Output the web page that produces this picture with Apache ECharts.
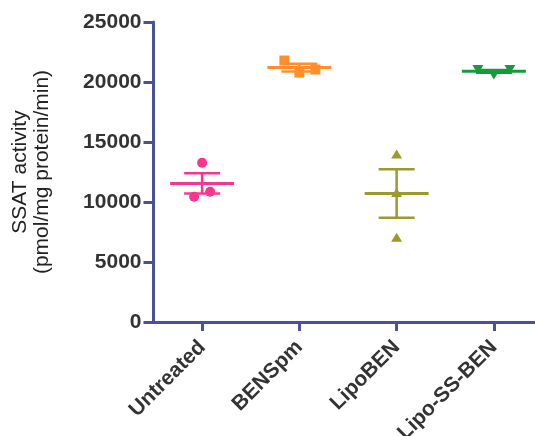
<!DOCTYPE html>
<html>
<head>
<meta charset="utf-8">
<script src="https://cdn.jsdelivr.net/npm/echarts@6/dist/echarts.min.js"></script>
<style>html,body{margin:0;padding:0;background:#fff;}#c{width:535px;height:436px;}</style>
</head>
<body>
<div id="c"></div>
<script>
// ---- data ----
const categories = ['Untreated', 'BENSpm', 'LipoBEN', 'Lipo-SS-BEN'];
const untreatedPts = [13270, 10440, 10860];
const benspmPts = [21790, 20790, 21040];
const lipobenPts = [14000, 10800, 7060];
const lipossbenPts = [21040, 20580, 21040];
const means = [11550, 21200, 10700, 20890];
const sems = [850, 330, 2020, 110];
const yTicks = [0, 5000, 10000, 15000, 20000, 25000];

// ---- styles ----
const colors = ['#F7378F', '#FF8F2C', '#9A9A2E', '#179A3C'];
const symbols = ['circle', 'rect', 'triangle', 'path://M0,0 L10,0 L5,9 Z'];
const symbolSizes = [[10, 10], [10, 10], [11, 9], [11, 9]];
const jitter = [[0, -8, 8], [-15, 0, 16], [0, 0, 0], [-16, 0, 16]];
const axisColor = '#4B5196';
const FONT = '"Liberation Sans", Arial, Helvetica, sans-serif';
const allPts = [untreatedPts, benspmPts, lipobenPts, lipossbenPts];

const chart = echarts.init(document.getElementById('c'), null, {renderer: 'canvas'});

const scatterSeries = allPts.map((pts, gi) => ({
  type: 'scatter',
  z: 5,
  symbol: symbols[gi],
  symbolSize: symbolSizes[gi],
  itemStyle: {color: colors[gi], opacity: 1},
  data: pts.map((v, k) => ({value: [categories[gi], v], symbolOffset: [jitter[gi][k], 0]})),
  silent: true
}));

const statSeries = {
  type: 'custom',
  z: 3,
  silent: true,
  data: means.map((m, i) => [i, m, sems[i]]),
  renderItem: function (params, api) {
    const i = api.value(0);
    const m = api.value(1);
    const s = api.value(2);
    const c = api.coord([i, m]);
    const hi = api.coord([i, m + s]);
    const lo = api.coord([i, m - s]);
    const col = colors[i];
    const half = 32, cap = 18;
    const st = {stroke: col, lineWidth: 3};
    return {
      type: 'group',
      children: [
        {type: 'line', shape: {x1: c[0] - half, y1: c[1], x2: c[0] + half, y2: c[1]}, style: st},
        {type: 'line', shape: {x1: c[0], y1: hi[1], x2: c[0], y2: lo[1]}, style: {stroke: col, lineWidth: 2.5}},
        {type: 'line', shape: {x1: c[0] - cap, y1: hi[1], x2: c[0] + cap, y2: hi[1]}, style: {stroke: col, lineWidth: 2.5}},
        {type: 'line', shape: {x1: c[0] - cap, y1: lo[1], x2: c[0] + cap, y2: lo[1]}, style: {stroke: col, lineWidth: 2.5}}
      ]
    };
  }
};

chart.setOption({
  animation: false,
  backgroundColor: '#fff',
  grid: {left: 153.5, top: 22, width: 389, height: 300, containLabel: false, outerBoundsMode: 'none'},
  xAxis: {
    type: 'category',
    data: categories,
    boundaryGap: true,
    axisLine: {show: true, lineStyle: {color: axisColor, width: 3}},
    axisTick: {show: true, alignWithLabel: true, length: 9, lineStyle: {color: axisColor, width: 3}},
    axisLabel: {
      rotate: 45, margin: 22, color: '#333', interval: 0,
      fontFamily: FONT, fontWeight: 'bold', fontSize: 21
    },
    splitLine: {show: false}
  },
  yAxis: {
    type: 'value',
    min: yTicks[0], max: yTicks[yTicks.length - 1], interval: yTicks[1] - yTicks[0],
    axisLine: {show: true, lineStyle: {color: axisColor, width: 3}},
    axisTick: {show: true, length: 10, lineStyle: {color: axisColor, width: 3}},
    axisLabel: {
      margin: 12, color: '#333', formatter: (v) => String(v),
      fontFamily: FONT, fontWeight: 'bold', fontSize: 21
    },
    splitLine: {show: false},
    name: 'SSAT activity\n(pmol/mg protein/min)',
    nameLocation: 'middle',
    nameRotate: 90,
    nameGap: 100,
    nameTextStyle: {color: '#222', fontFamily: FONT, fontSize: 21, lineHeight: 22}
  },
  series: [statSeries].concat(scatterSeries)
});
</script>
</body>
</html>
